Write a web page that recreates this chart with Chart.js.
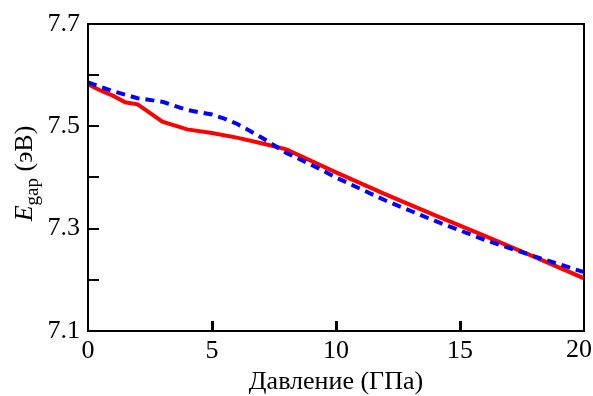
<!DOCTYPE html>
<html>
<head>
<meta charset="utf-8">
<script src="https://cdn.jsdelivr.net/npm/chart.js@4.4.1/dist/chart.umd.min.js"></script>
<style>
  html, body { margin: 0; padding: 0; background: #fff; }
</style>
</head>
<body>
<canvas id="chart" width="593" height="396"></canvas>
<script>
// pressure (GPa) and band gap (eV)
const pressureRed = [0, 0.5, 1, 1.5, 2, 3, 4, 5, 6, 7, 8, 10, 12, 14, 16, 18, 20];
const gapRed = [7.582, 7.570, 7.560, 7.547, 7.543, 7.509, 7.494, 7.487, 7.478, 7.467, 7.455, 7.410, 7.367, 7.326, 7.286, 7.245, 7.203];

const pressureBlue = [0, 0.5, 1, 1.5, 2, 3, 4, 5, 5.5, 6, 6.5, 7, 7.5, 8, 9, 10, 12, 14, 16, 18, 20];
const gapBlue = [7.586, 7.577, 7.569, 7.562, 7.555, 7.548, 7.532, 7.523, 7.515, 7.505, 7.492, 7.478, 7.463, 7.448, 7.425, 7.400, 7.355, 7.315, 7.278, 7.246, 7.215];

const xTicks = [0, 5, 10, 15, 20];
const yTickLabels = [7.1, 7.3, 7.5, 7.7];

const FONT = 'Liberation Serif, Times New Roman, serif';
const FS = 26;

const toPoints = (xs, ys) => xs.map((x, i) => ({ x: x, y: ys[i] }));

// frame, inward ticks, last x label and the y title (italic E + subscript)
const framePlugin = {
    id: 'frame',
    afterDraw(chart) {
        const ctx = chart.ctx;
        const a = chart.chartArea;
        const xs = chart.scales.x;
        const ys = chart.scales.y;
        ctx.save();
        ctx.strokeStyle = '#000';
        ctx.fillStyle = '#000';
        ctx.lineWidth = 2;
        ctx.strokeRect(a.left, a.top, a.right - a.left, a.bottom - a.top);

        // y ticks every 0.1, pointing into the plot
        ys.ticks.forEach(t => {
            const py = Math.round(ys.getPixelForValue(t.value));
            ctx.fillRect(a.left, py - 1, 11, 2);
        });
        // x ticks at the inner labels
        xTicks.slice(1, -1).forEach(v => {
            const px = Math.round(xs.getPixelForValue(v));
            ctx.fillRect(px - 1, a.bottom - 10, 3, 10);
        });

        // last x label kept inside the canvas
        const last = xTicks[xTicks.length - 1];
        ctx.font = FS + 'px ' + FONT;
        ctx.textAlign = 'right';
        ctx.textBaseline = 'top';
        ctx.fillText(String(last), chart.width - 1, a.bottom + 6);

        // y axis title
        const parts = [
            { text: 'E', font: 'italic ' + FS + 'px ' + FONT, dy: 0 },
            { text: 'gap', font: Math.round(FS * 0.72) + 'px ' + FONT, dy: 6 },
            { text: ' (эВ)', font: FS + 'px ' + FONT, dy: 0 }
        ];
        let total = 0;
        parts.forEach(p => { ctx.font = p.font; p.w = ctx.measureText(p.text).width; total += p.w; });
        ctx.translate(32, (a.top + a.bottom) / 2 - 4);
        ctx.rotate(-Math.PI / 2);
        ctx.textBaseline = 'alphabetic';
        ctx.textAlign = 'left';
        let cx = -total / 2;
        parts.forEach(p => {
            ctx.font = p.font;
            ctx.fillText(p.text, cx, p.dy);
            cx += p.w;
        });
        ctx.restore();
    }
};

new Chart(document.getElementById('chart').getContext('2d'), {
    type: 'scatter',
    data: {
        datasets: [
            {
                label: 'blue',
                data: toPoints(pressureBlue, gapBlue),
                showLine: true,
                borderColor: '#0000ff',
                borderWidth: 4,
                borderDash: [9, 6],
                pointRadius: 0,
                tension: 0
            },
            {
                label: 'red',
                data: toPoints(pressureRed, gapRed),
                showLine: true,
                borderColor: '#ff0000',
                borderWidth: 4,
                pointRadius: 0,
                tension: 0
            }
        ]
    },
    options: {
        responsive: false,
        devicePixelRatio: 1,
        animation: false,
        layout: { padding: { top: 24, right: 9, left: 0, bottom: 0 } },
        plugins: {
            legend: { display: false },
            tooltip: { enabled: false }
        },
        scales: {
            x: {
                type: 'linear',
                min: 0,
                max: 20,
                afterBuildTicks: s => { s.ticks = xTicks.map(v => ({ value: v })); },
                afterFit: s => { s.height = 65; s.paddingRight = 0; s.paddingLeft = 0; },
                grid: { display: false, drawTicks: false },
                border: { display: false },
                ticks: {
                    color: '#000',
                    font: { family: FONT, size: FS },
                    padding: 5,
                    maxRotation: 0,
                    callback: v => (v === xTicks[xTicks.length - 1] ? '' : String(v))
                },
                title: {
                    display: true,
                    text: 'Давление (ГПа)',
                    color: '#000',
                    font: { family: FONT, size: FS },
                    padding: { top: 0, bottom: -2 }
                }
            },
            y: {
                min: 7.1,
                max: 7.7,
                afterFit: s => { s.width = 88; s.paddingTop = 0; s.paddingBottom = 0; },
                grid: { display: false, drawTicks: false },
                border: { display: false },
                ticks: {
                    stepSize: 0.1,
                    color: '#000',
                    font: { family: FONT, size: FS },
                    padding: 8,
                    callback: v => {
                        const r = Math.round(v * 10) / 10;
                        return yTickLabels.includes(r) ? r.toFixed(1) : '';
                    }
                }
            }
        }
    },
    plugins: [framePlugin]
});
</script>
</body>
</html>
